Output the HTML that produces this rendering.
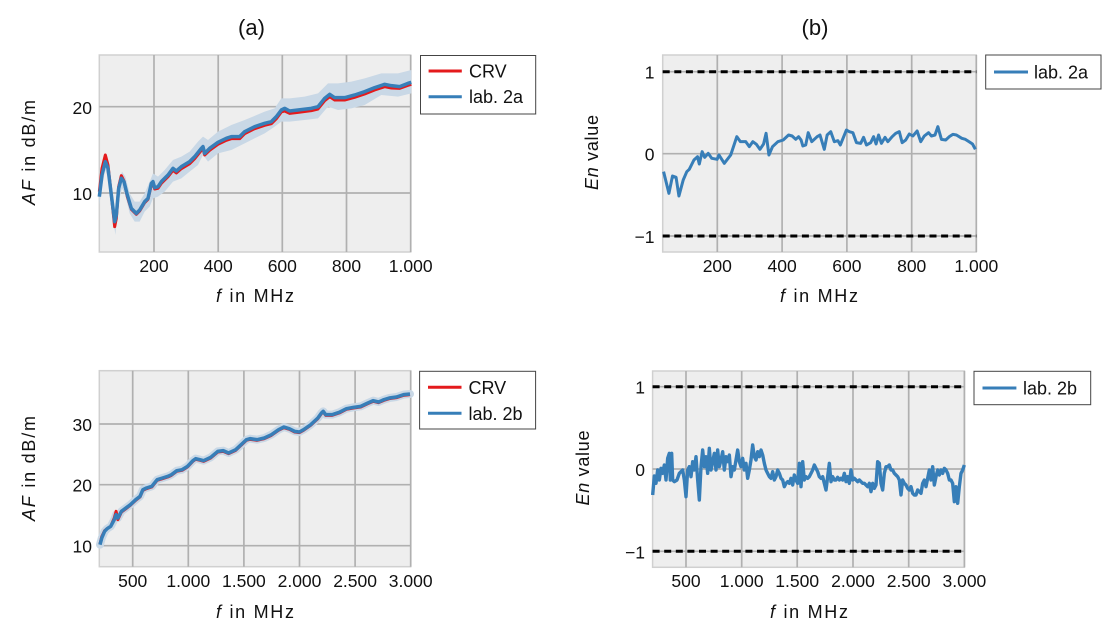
<!DOCTYPE html>
<html><head><meta charset="utf-8">
<style>
html,body{margin:0;padding:0;background:#fff;}
svg{display:block;font-family:"Liberation Sans","DejaVu Sans",sans-serif;}
</style></head>
<body>
<svg width="1120" height="638" viewBox="0 0 1120 638" xmlns="http://www.w3.org/2000/svg">
<!-- ===== Titles ===== -->
<text x="251.5" y="35" font-size="22" text-anchor="middle" fill="#111">(a)</text>
<text x="815" y="35" font-size="22" text-anchor="middle" fill="#111">(b)</text>

<!-- ===== Panel TL ===== -->
<rect x="99.3" y="55" width="311.4" height="197" fill="#eeeeee" stroke="#d0d0d0" stroke-width="1.5"/>
<g stroke="#b0b0b0" stroke-width="1.7">
<line x1="154" y1="55" x2="154" y2="252"/><line x1="218.2" y1="55" x2="218.2" y2="252"/>
<line x1="282.3" y1="55" x2="282.3" y2="252"/><line x1="346.5" y1="55" x2="346.5" y2="252"/>
<line x1="410.7" y1="55" x2="410.7" y2="252"/>
<line x1="99.3" y1="106.7" x2="410.7" y2="106.7"/><line x1="99.3" y1="193" x2="410.7" y2="193"/>
</g>
<g transform="translate(98,55) scale(0.33333)">
<polygon fill="#c9d8e6" points="4,400 12,335 22,295 32,320 42,395 52,470 62,385 72,350 82,365 95,415 110,440 125,440 140,415 155,380 165,355 180,365 200,345 225,315 250,305 275,290 300,260 315,245 330,255 360,230 400,210 440,195 500,170 530,160 550,130 575,130 620,125 660,115 690,85 720,85 760,80 800,70 850,55 900,55 940,45 940,115 900,125 850,120 800,150 760,160 720,165 690,155 660,190 620,195 575,200 550,200 530,215 500,235 440,265 400,285 360,295 330,320 315,300 300,330 275,350 250,370 225,380 200,410 180,425 165,430 155,455 140,470 125,500 110,500 95,475 82,420 72,400 62,440 52,540 42,460 32,375 22,345 12,395 4,450"/>
<polyline fill="none" stroke="#e41a1c" stroke-width="3" vector-effect="non-scaling-stroke" stroke-linejoin="round" points="4,410 12,340 22,300 30,330 40,420 50,515 55,490 62,395 70,362 78,378 88,425 100,463 115,478 125,468 140,443 150,433 160,390 165,385 170,402 180,400 190,385 210,365 225,346 235,354 250,341 275,326 290,311 310,286 315,281 320,300 335,286 360,268 385,256 400,251 410,251 425,251 440,236 470,221 500,211 520,206 535,191 550,171 560,168 575,175 600,172 640,167 660,162 680,137 695,125 710,135 740,135 770,127 800,117 830,105 860,95 880,99 905,100 930,91 940,88"/>
<polyline fill="none" stroke="#377eb8" stroke-width="3.5" vector-effect="non-scaling-stroke" stroke-linejoin="round" points="4,425 12,360 22,320 30,340 40,420 50,500 55,480 62,400 70,370 78,380 88,420 100,460 115,475 125,465 140,440 150,430 160,385 165,380 170,398 180,395 190,380 210,360 225,340 235,348 250,335 275,320 290,305 310,280 315,275 320,295 335,280 360,262 385,250 400,245 410,245 425,245 440,230 470,215 500,205 520,200 535,185 550,165 560,160 575,168 600,165 640,160 660,155 680,130 695,118 710,128 740,128 770,120 800,110 830,98 860,88 880,92 905,95 930,85 940,82"/>
</g>
<g font-size="17.5" fill="#111">
<text x="92" y="114" text-anchor="end">20</text>
<text x="92" y="200" text-anchor="end">10</text>
<g text-anchor="middle">
<text x="154" y="272">200</text><text x="218.2" y="272">400</text><text x="282.3" y="272">600</text><text x="346.5" y="272">800</text><text x="410.7" y="272">1.000</text>
</g>
</g>
<text x="255" y="302" font-size="18" text-anchor="middle" textLength="78" lengthAdjust="spacing" fill="#111"><tspan font-style="italic">f</tspan> in MHz</text>
<text transform="translate(35,152.5) rotate(-90)" font-size="18" text-anchor="middle" textLength="105" lengthAdjust="spacing" fill="#111"><tspan font-style="italic">AF</tspan> in dB/m</text>
<!-- legend TL -->
<rect x="420.5" y="55.5" width="115.2" height="58.5" fill="#fff" stroke="#444" stroke-width="1"/>
<line x1="428.6" y1="71" x2="461.8" y2="71" stroke="#e41a1c" stroke-width="3"/>
<text x="469" y="77.5" font-size="18" fill="#111">CRV</text>
<line x1="428.6" y1="96.7" x2="461.8" y2="96.7" stroke="#377eb8" stroke-width="3"/>
<text x="469" y="103.2" font-size="18" fill="#111">lab. 2a</text>

<!-- ===== Panel TR ===== -->
<rect x="662.7" y="55" width="313.6" height="197" fill="#eeeeee" stroke="#d0d0d0" stroke-width="1.5"/>
<g stroke="#b0b0b0" stroke-width="1.7">
<line x1="717.3" y1="55" x2="717.3" y2="252"/><line x1="782.1" y1="55" x2="782.1" y2="252"/>
<line x1="846.9" y1="55" x2="846.9" y2="252"/><line x1="911.7" y1="55" x2="911.7" y2="252"/>
<line x1="976.3" y1="55" x2="976.3" y2="252"/>
<line x1="662.7" y1="71.7" x2="976.3" y2="71.7"/><line x1="662.7" y1="153.7" x2="976.3" y2="153.7"/><line x1="662.7" y1="236" x2="976.3" y2="236"/>
</g>
<g stroke="#000" stroke-width="3" stroke-dasharray="7 4.6">
<line x1="662.7" y1="71.7" x2="976.3" y2="71.7"/><line x1="662.7" y1="236" x2="976.3" y2="236"/>
</g>
<g transform="translate(560,0) scale(0.357143,0.33333)">
<polyline fill="none" stroke="#377eb8" stroke-width="3" vector-effect="non-scaling-stroke" stroke-linejoin="round" points="290,515 305,580 315,528 325,532 333,588 345,540 355,515 362,508 375,480 385,470 390,492 398,455 405,472 415,460 425,475 440,478 445,465 460,490 478,465 495,410 505,425 520,425 530,440 540,425 550,433 560,448 570,432 577,400 585,465 595,440 610,425 625,420 640,405 650,408 660,418 668,410 675,420 680,438 688,435 695,398 705,425 720,410 728,405 740,448 748,405 758,395 768,425 778,422 785,435 802,390 810,395 820,398 830,428 842,430 850,412 858,435 870,428 878,410 885,432 892,405 900,430 910,412 918,425 930,410 940,400 950,395 958,428 968,420 978,402 988,408 1000,393 1010,425 1020,408 1032,398 1040,408 1050,405 1058,380 1068,418 1080,420 1090,410 1100,403 1110,405 1125,415 1135,418 1145,425 1155,432 1163,448"/>
</g>
<g font-size="17.5" fill="#111">
<text x="654.5" y="78.7" text-anchor="end">1</text>
<text x="654.5" y="160.7" text-anchor="end">0</text>
<text x="654.5" y="243" text-anchor="end">−1</text>
<g text-anchor="middle">
<text x="717.3" y="272">200</text><text x="782.1" y="272">400</text><text x="846.9" y="272">600</text><text x="911.7" y="272">800</text><text x="976.3" y="272">1.000</text>
</g>
</g>
<text x="819" y="302" font-size="18" text-anchor="middle" textLength="78" lengthAdjust="spacing" fill="#111"><tspan font-style="italic">f</tspan> in MHz</text>
<text transform="translate(598,152.5) rotate(-90)" font-size="18" text-anchor="middle" textLength="75" lengthAdjust="spacing" fill="#111"><tspan font-style="italic">En</tspan> value</text>
<rect x="985.7" y="55" width="115.3" height="34" fill="#fff" stroke="#444" stroke-width="1"/>
<line x1="994" y1="72" x2="1028" y2="72" stroke="#377eb8" stroke-width="3"/>
<text x="1034" y="78.5" font-size="18" fill="#111">lab. 2a</text>

<!-- ===== Panel BL ===== -->
<rect x="99.3" y="370.7" width="311.4" height="196" fill="#eeeeee" stroke="#d0d0d0" stroke-width="1.5"/>
<g stroke="#b0b0b0" stroke-width="1.7">
<line x1="132.7" y1="370.7" x2="132.7" y2="566.7"/><line x1="188.3" y1="370.7" x2="188.3" y2="566.7"/>
<line x1="243.9" y1="370.7" x2="243.9" y2="566.7"/><line x1="299.5" y1="370.7" x2="299.5" y2="566.7"/>
<line x1="355.1" y1="370.7" x2="355.1" y2="566.7"/><line x1="410.7" y1="370.7" x2="410.7" y2="566.7"/>
<line x1="99.3" y1="424" x2="410.7" y2="424"/><line x1="99.3" y1="484.7" x2="410.7" y2="484.7"/><line x1="99.3" y1="545.7" x2="410.7" y2="545.7"/>
</g>
<g transform="translate(0,318) scale(0.357143,0.33333)">
<polyline fill="none" stroke="#c9d8e6" stroke-width="8" vector-effect="non-scaling-stroke" stroke-linejoin="round" stroke-linecap="round" points="280,680 285,660 293,640 300,632 310,625 320,605 325,590 330,600 340,580 355,568 365,560 380,545 392,535 400,515 410,510 425,505 440,485 455,480 470,475 480,470 495,458 510,455 525,445 540,428 548,422 560,425 570,428 590,418 610,400 625,398 640,405 660,395 680,375 690,365 700,362 720,365 740,360 760,350 780,335 795,327 810,332 825,340 838,342 850,335 870,320 890,300 900,285 905,280 912,290 930,290 950,283 970,272 990,268 1010,265 1030,255 1045,248 1060,252 1075,245 1090,240 1110,237 1130,230 1148,228"/>
<polyline fill="none" stroke="#e41a1c" stroke-width="3" vector-effect="non-scaling-stroke" stroke-linejoin="round" points="280,678 285,656 293,638 300,632 310,625 320,600 325,580 330,605 340,582 355,570 365,562 380,547 392,537 400,517 410,512 425,507 440,487 455,482 470,477 480,472 495,460 510,457 525,447 540,430 548,424 560,427 570,430 590,420 610,402 625,400 640,407 660,397 680,377 690,367 700,364 720,367 740,362 760,352 780,337 795,329 810,334 825,342 838,344 850,337 870,322 890,302 900,287 905,282 912,292 930,292 950,285 970,274 990,270 1010,267 1030,257 1045,250 1060,254 1075,247 1090,242 1110,239 1130,232 1148,230"/>
<polyline fill="none" stroke="#377eb8" stroke-width="3.5" vector-effect="non-scaling-stroke" stroke-linejoin="round" points="280,680 285,660 293,640 300,632 310,625 320,605 325,590 330,600 340,580 355,568 365,560 380,545 392,535 400,515 410,510 425,505 440,485 455,480 470,475 480,470 495,458 510,455 525,445 540,428 548,422 560,425 570,428 590,418 610,400 625,398 640,405 660,395 680,375 690,365 700,362 720,365 740,360 760,350 780,335 795,327 810,332 825,340 838,342 850,335 870,320 890,300 900,285 905,280 912,290 930,290 950,283 970,272 990,268 1010,265 1030,255 1045,248 1060,252 1075,245 1090,240 1110,237 1130,230 1148,228"/>
</g>
<g font-size="17.5" fill="#111">
<text x="92" y="431" text-anchor="end">30</text>
<text x="92" y="491.7" text-anchor="end">20</text>
<text x="92" y="552.7" text-anchor="end">10</text>
<g text-anchor="middle">
<text x="132.7" y="587">500</text><text x="188.3" y="587">1.000</text><text x="243.9" y="587">1.500</text><text x="299.5" y="587">2.000</text><text x="355.1" y="587">2.500</text><text x="410.7" y="587">3.000</text>
</g>
</g>
<text x="255" y="618" font-size="18" text-anchor="middle" textLength="78" lengthAdjust="spacing" fill="#111"><tspan font-style="italic">f</tspan> in MHz</text>
<text transform="translate(35,468.5) rotate(-90)" font-size="18" text-anchor="middle" textLength="105" lengthAdjust="spacing" fill="#111"><tspan font-style="italic">AF</tspan> in dB/m</text>
<rect x="419.6" y="371.3" width="116" height="57.7" fill="#fff" stroke="#444" stroke-width="1"/>
<line x1="428" y1="387.3" x2="461.5" y2="387.3" stroke="#e41a1c" stroke-width="3"/>
<text x="468.5" y="393.8" font-size="18" fill="#111">CRV</text>
<line x1="428" y1="413.3" x2="461.5" y2="413.3" stroke="#377eb8" stroke-width="3"/>
<text x="468.5" y="419.8" font-size="18" fill="#111">lab. 2b</text>

<!-- ===== Panel BR ===== -->
<rect x="652.6" y="371" width="311.8" height="196.3" fill="#eeeeee" stroke="#d0d0d0" stroke-width="1.5"/>
<g stroke="#b0b0b0" stroke-width="1.7">
<line x1="686" y1="371" x2="686" y2="567.3"/><line x1="741.7" y1="371" x2="741.7" y2="567.3"/>
<line x1="797.2" y1="371" x2="797.2" y2="567.3"/><line x1="853" y1="371" x2="853" y2="567.3"/>
<line x1="908.7" y1="371" x2="908.7" y2="567.3"/><line x1="964.4" y1="371" x2="964.4" y2="567.3"/>
<line x1="652.6" y1="386.7" x2="964.4" y2="386.7"/><line x1="652.6" y1="469" x2="964.4" y2="469"/><line x1="652.6" y1="551.3" x2="964.4" y2="551.3"/>
</g>
<g stroke="#000" stroke-width="3" stroke-dasharray="7 4.6">
<line x1="652.6" y1="386.7" x2="964.4" y2="386.7"/><line x1="652.6" y1="551.3" x2="964.4" y2="551.3"/>
</g>
<g transform="translate(651,370) scale(0.33333)">
<polyline fill="none" stroke="#377eb8" stroke-width="3.4" vector-effect="non-scaling-stroke" stroke-linejoin="round" points="5,375 10,318 15,340 20,300 25,330 30,295 35,310 40,285 45,330 50,265 55,250 58,330 62,250 65,330 70,335 78,330 85,310 95,300 100,330 105,380 110,300 115,290 120,320 125,275 130,300 135,260 140,330 145,390 150,290 155,240 160,290 165,260 170,310 175,235 180,300 185,275 190,250 195,300 200,240 205,290 210,270 215,245 220,300 225,260 230,275 235,255 240,320 245,290 250,300 255,270 260,240 265,275 270,290 275,265 280,300 285,280 290,325 295,300 300,270 305,225 310,260 315,270 320,245 325,260 330,240 335,255 340,280 345,300 350,310 355,320 360,325 365,305 370,330 375,320 380,300 385,310 390,325 395,330 400,350 405,340 410,335 415,340 420,325 425,345 430,315 435,330 440,340 445,280 450,350 455,275 460,330 465,320 470,325 475,320 480,310 485,300 490,285 495,295 500,305 505,320 510,325 515,320 520,340 525,360 530,320 535,280 540,335 545,320 550,330 555,330 560,322 565,330 570,325 575,330 580,310 585,335 590,320 595,340 600,300 605,330 610,325 615,330 620,335 625,330 630,335 635,340 640,340 645,345 650,350 655,340 660,365 665,340 670,355 675,345 680,275 685,280 690,340 695,360 700,310 705,290 710,290 715,285 720,300 725,300 730,310 735,315 740,320 745,330 750,375 755,330 760,340 765,345 770,355 775,360 780,350 785,370 790,375 795,375 800,360 805,365 810,370 815,340 820,330 825,350 830,325 835,300 840,330 845,290 850,345 855,320 860,300 865,315 870,300 875,310 880,295 885,300 890,310 895,330 900,330 905,340 910,395 915,350 920,400 925,350 930,310 935,300 940,285"/>
</g>
<g font-size="17.5" fill="#111">
<text x="645" y="393.7" text-anchor="end">1</text>
<text x="645" y="476" text-anchor="end">0</text>
<text x="645" y="558.3" text-anchor="end">−1</text>
<g text-anchor="middle">
<text x="686" y="587">500</text><text x="741.7" y="587">1.000</text><text x="797.2" y="587">1.500</text><text x="853" y="587">2.000</text><text x="908.7" y="587">2.500</text><text x="964.4" y="587">3.000</text>
</g>
</g>
<text x="809" y="618" font-size="18" text-anchor="middle" textLength="78" lengthAdjust="spacing" fill="#111"><tspan font-style="italic">f</tspan> in MHz</text>
<text transform="translate(589,468) rotate(-90)" font-size="18" text-anchor="middle" textLength="75" lengthAdjust="spacing" fill="#111"><tspan font-style="italic">En</tspan> value</text>
<rect x="974" y="371.3" width="116.7" height="33.4" fill="#fff" stroke="#444" stroke-width="1"/>
<line x1="982.5" y1="388" x2="1016.4" y2="388" stroke="#377eb8" stroke-width="3"/>
<text x="1023" y="394.5" font-size="18" fill="#111">lab. 2b</text>
</svg>
</body></html>
